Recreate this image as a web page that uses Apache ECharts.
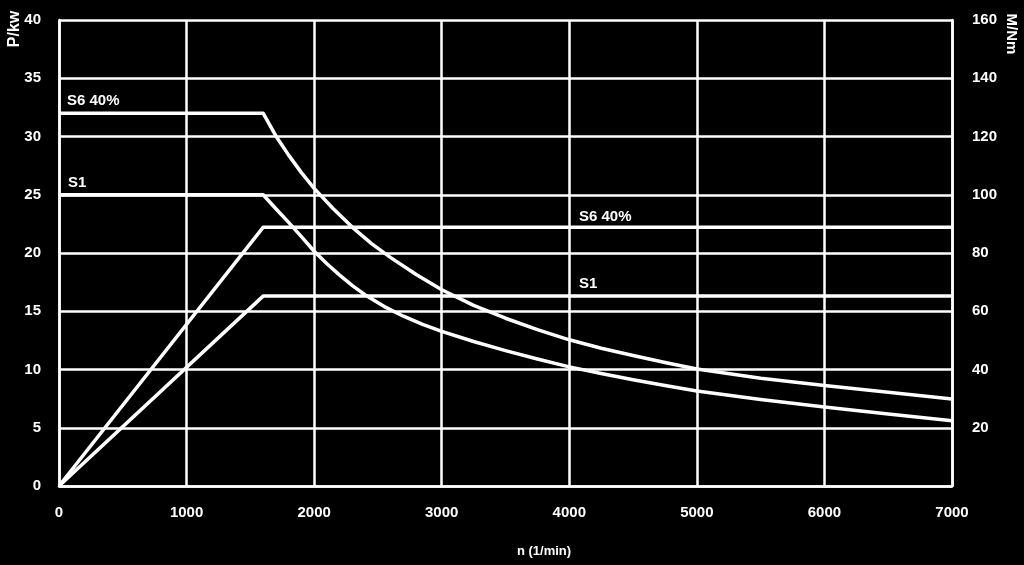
<!DOCTYPE html>
<html>
<head>
<meta charset="utf-8">
<script src="https://cdn.jsdelivr.net/npm/echarts@6/dist/echarts.min.js"></script>
<style>
html,body{margin:0;padding:0;background:#000;}
#c{width:1024px;height:565px;}
</style>
</head>
<body>
<div id="c"></div>
<script>
// speed (1/min) and values
const speedTicks = [0, 1000, 2000, 3000, 4000, 5000, 6000, 7000];
// Power curves (P/kw, left axis): [n, P]
const powerS6 = [[0, 0], [1600, 22.2], [7000, 22.2]];
const powerS1 = [[0, 0], [1600, 16.3], [7000, 16.3]];
// Torque curves (M/Nm, right axis): [n, M]
const torqueS6 = [[0, 128], [1600, 128], [1700, 120.2], [1800, 113.6], [1900, 107.6], [2000, 102.2],
  [2150, 95.2], [2300, 88.8], [2450, 83.2], [2600, 78.4], [2800, 72.6], [3000, 67.4], [3250, 62.0],
  [3500, 57.6], [3750, 53.7], [4000, 50.2], [4250, 47.3], [4500, 44.8], [4750, 42.4], [5000, 40.2],
  [5500, 37.0], [6000, 34.5], [6500, 32.2], [7000, 29.9]];
const torqueS1 = [[0, 100], [1600, 100], [1700, 95.2], [1800, 90.5], [1900, 85.6], [2000, 80.6],
  [2100, 76.3], [2200, 72.4], [2300, 68.8], [2400, 65.6], [2550, 61.6], [2700, 58.3], [2850, 55.5],
  [3000, 53.1], [3250, 49.6], [3500, 46.5], [3750, 43.6], [4000, 40.9], [4250, 38.6], [4500, 36.5],
  [4750, 34.5], [5000, 32.6], [5500, 29.7], [6000, 27.1], [6500, 24.7], [7000, 22.4]];
const labelS6 = 'S6 40%';
const labelS1 = 'S1';

const FONT = '"Liberation Sans", Arial, sans-serif';
const chart = echarts.init(document.getElementById('c'));
const lineStyle = {color: '#fff', width: 3.5, join: 'round'};
function mkSeries(data, yIdx) {
  return {
    type: 'line', data: data, yAxisIndex: yIdx, symbol: 'none', smooth: false,
    lineStyle: lineStyle, animation: false, z: 5
  };
}
const txt = (x, y, t, size, rot, align) => ({
  type: 'text', x: x, y: y, rotation: rot || 0,
  style: {text: t, fill: '#fff', font: 'bold ' + size + 'px ' + FONT,
    textAlign: align || 'left', textVerticalAlign: 'middle'}
});
chart.setOption({
  backgroundColor: '#000',
  animation: false,
  grid: {left: 59, right: 72, top: 20, bottom: 79},
  xAxis: {
    type: 'value', min: speedTicks[0], max: speedTicks[speedTicks.length - 1], interval: 1000,
    axisLine: {show: true, lineStyle: {color: '#fff', width: 2.5}},
    axisTick: {show: false},
    splitLine: {show: true, lineStyle: {color: '#fff', width: 2.5}},
    axisLabel: {color: '#fff', fontSize: 15, fontWeight: 'bold', fontFamily: FONT, margin: 19,
      formatter: v => String(v)}
  },
  yAxis: [{
    type: 'value', min: 0, max: 40, interval: 5, position: 'left',
    axisLine: {show: true, lineStyle: {color: '#fff', width: 2.5}},
    axisTick: {show: false},
    splitLine: {show: true, lineStyle: {color: '#fff', width: 2.5}},
    axisLabel: {color: '#fff', fontSize: 15, fontWeight: 'bold', fontFamily: FONT, margin: 18}
  }, {
    type: 'value', min: 0, max: 160, interval: 20, position: 'right',
    axisLine: {show: true, lineStyle: {color: '#fff', width: 2.5}},
    axisTick: {show: false},
    splitLine: {show: false},
    axisLabel: {color: '#fff', fontSize: 15, fontWeight: 'bold', fontFamily: FONT, margin: 20,
      formatter: v => v === 0 ? '' : String(v)}
  }],
  series: [
    mkSeries(powerS6, 0),
    mkSeries(powerS1, 0),
    mkSeries(torqueS6, 1),
    mkSeries(torqueS1, 1)
  ],
  graphic: [
    txt(15, 29, 'P/kw', 16, Math.PI / 2, 'center'),
    txt(1011, 34, 'M/Nm', 15, -Math.PI / 2, 'center'),
    txt(544, 551, 'n (1/min)', 13, 0, 'center'),
    txt(67, 101, labelS6, 15),
    txt(68, 183, labelS1, 15),
    txt(579, 217, labelS6, 15),
    txt(579, 284, labelS1, 15)
  ]
});
</script>
</body>
</html>
